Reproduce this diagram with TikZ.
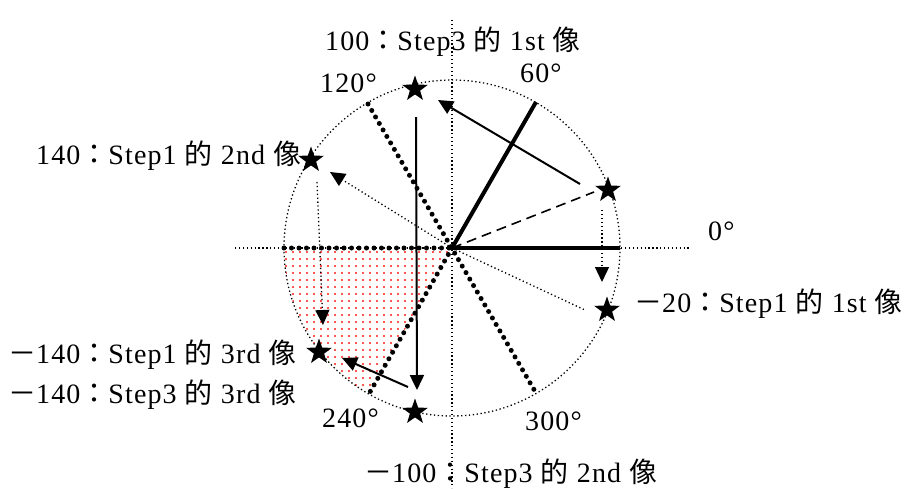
\documentclass[tikz,border=0pt]{standalone}
\usepackage{fontspec}
\setmainfont{Liberation Serif}[LetterSpace=4]
\newfontfamily\cjk{Noto Sans CJK TC}[LetterSpace=4]
\newcommand\zh[1]{{\cjk #1}}
\usetikzlibrary{arrows.meta,shapes.geometric}
\begin{document}
\begin{tikzpicture}[x=1pt,y=-1pt,
  lbl/.style={inner sep=0pt, font=\fontsize{28}{30}\selectfont, anchor=base west},
  starnode/.style={star, star points=5, star point ratio=2.5, fill=black, inner sep=0pt, minimum size=27pt},
  thindot/.style={line width=1.3pt, dash pattern=on 1.3pt off 2.6pt},
  thickdot/.style={line width=5pt, line cap=round, dash pattern=on 0pt off 7.5pt},
  thicksolid/.style={line width=4pt},
  arr/.style={-{Triangle[length=15pt,width=14pt]}},
  solidarr/.style={arr, line width=2pt},
  dotarr/.style={arr, thindot}
]
\useasboundingbox (0,0) rectangle (911,488);

\coordinate (O) at (452,248);
\coordinate (XL) at (235,248);
\coordinate (XR) at (690,248);
\coordinate (YT) at (452,20);
\coordinate (YB) at (452,488);
\coordinate (R0) at (620,248);
\coordinate (R60) at (536,102);
\coordinate (R120) at (368,104);
\coordinate (R300) at (536,393);
\coordinate (R240) at (370,392);
\coordinate (R180) at (284,248);

% red dotted sector (y axis points down, so the lower-left sector runs from 180 to 120 here)
\begin{scope}
  \clip (O) -- (R180) arc[start angle=180, end angle=120, radius=168] -- cycle;
  \foreach \i in {0,...,24} {
    \foreach \j in {0,...,22} {
      \fill[red!90] (286+\i*7, 252+\j*7) circle[radius=1.15];
    }
  }
\end{scope}

% axes and circle
\draw[thindot] (XL) -- (XR);
\draw[thindot] (YT) -- (YB);
\draw[thindot] (O) circle[radius=168];

% thick lines
\draw[thicksolid] (O) -- (R0);
\draw[thicksolid] (O) -- (R60);
\draw[thickdot] (R120) -- (R300);
\draw[thickdot] (O) -- (R240);
\draw[thickdot] (R180) -- (O);

% stars
\node[starnode] (s20) at (608,190) {};
\node[starnode] (sm20) at (607,310) {};
\node[starnode] (s140) at (311,160) {};
\node[starnode] (s100) at (415,89) {};
\node[starnode] (sm140) at (319,352) {};
\node[starnode] (sm100) at (415,412) {};

% connector end points
\coordinate (a1t) at (580,184);
\coordinate (a1h) at (438,100);
\coordinate (a2t) at (416,117);
\coordinate (a2h) at (417,390);
\coordinate (a3t) at (408,387);
\coordinate (a3h) at (342,358);
\coordinate (d1t) at (317,182);
\coordinate (d1h) at (323,325);
\coordinate (d2t) at (602,210);
\coordinate (d2h) at (602,282);
\coordinate (dd) at (330,172);
\coordinate (de) at (585,310);
\coordinate (dsh) at (594,192);

\draw[line width=1.6pt, dash pattern=on 10pt off 6pt] (O) -- (dsh);
\draw[thindot] (O) -- (de);
\draw[dotarr] (O) -- (dd);
\draw[dotarr] (d1t) -- (d1h);
\draw[dotarr] (d2t) -- (d2h);
\draw[solidarr] (a1t) -- (a1h);
\draw[solidarr] (a2t) -- (a2h);
\draw[solidarr] (a3t) -- (a3h);

% labels
\node[lbl] (t100) at (325,50) {100\zh{：}Step3 \zh{的} 1st \zh{像}};
\node[lbl] (t60) at (520,82) {60°};
\node[lbl] (t120) at (320,92) {120°};
\node[lbl] (t140) at (36,164) {140\zh{：}Step1 \zh{的} 2nd \zh{像}};
\node[lbl] (t0) at (708,240) {0°};
\node[lbl] (tm20) at (634,312) {\zh{－}20\zh{：}Step1 \zh{的} 1st \zh{像}};
\node[lbl] (tm140a) at (8,363) {\zh{－}140\zh{：}Step1 \zh{的} 3rd \zh{像}};
\node[lbl] (tm140b) at (8,403) {\zh{－}140\zh{：}Step3 \zh{的} 3rd \zh{像}};
\node[lbl] (t240) at (322,427) {240°};
\node[lbl] (t300) at (525,430) {300°};
\node[lbl] (tm100) at (364,482) {\zh{－}100\zh{：}Step3 \zh{的} 2nd \zh{像}};
\end{tikzpicture}
\end{document}
